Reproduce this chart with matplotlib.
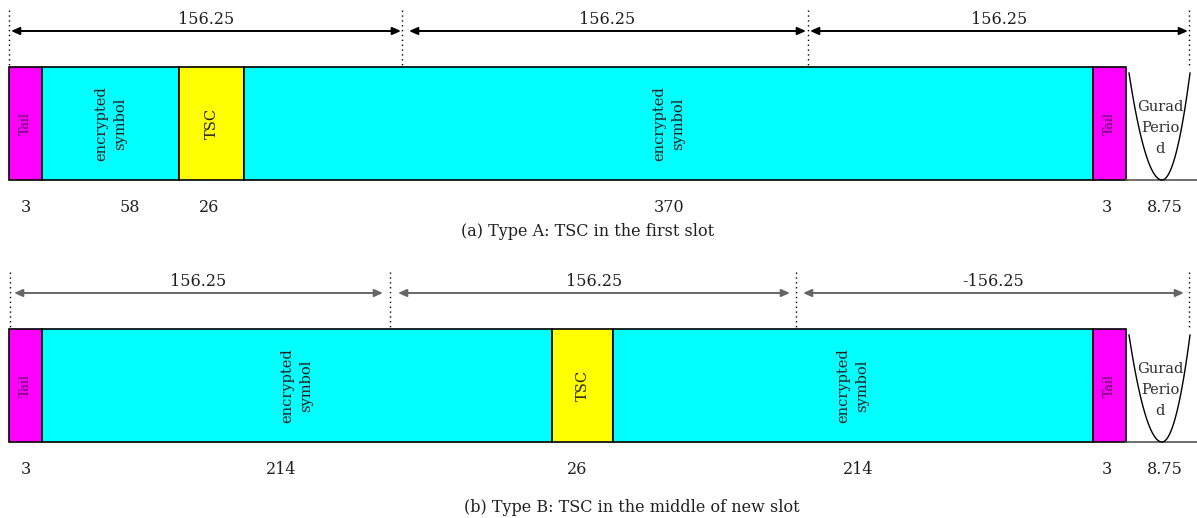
import numpy as np
import matplotlib.pyplot as plt
from matplotlib.patches import Rectangle

# burst contents
a_fields = ["Tail", "encrypted\nsymbol", "TSC", "encrypted\nsymbol", "Tail"]
a_bits = ["3", "58", "26", "370", "3", "8.75"]
b_fields = ["Tail", "encrypted\nsymbol", "TSC", "encrypted\nsymbol", "Tail"]
b_bits = ["3", "214", "26", "214", "3", "8.75"]
a_slots = ["156.25", "156.25", "156.25"]
b_slots = ["156.25", "156.25", "-156.25"]
a_caption = "(a) Type A: TSC in the first slot"
b_caption = "(b) Type B: TSC in the middle of new slot"
guard_text = "Gurad\nPerio\nd"

# layout (pixel units, the drawing is not to scale)
a_edges = [9, 42, 179, 244, 1093, 1126]
b_edges = [9, 42, 552, 613, 1093, 1126]
a_bit_x = [26, 130, 209, 669, 1107, 1165]
b_bit_x = [26, 281, 577, 858, 1107, 1165]
a_marks = [9, 402, 808, 1189]
b_marks = [10, 390, 796, 1189]
a_arrows = [(11, 401), (409, 806), (810, 1188)]
b_arrows = [(14, 383), (398, 790), (803, 1184)]

colors = {"Tail": "#ff00ff", "TSC": "#ffff00", "encrypted\nsymbol": "#00ffff"}
font = ["DejaVu Serif"]
fs = 10.5
fs_lab = 11.5

fig = plt.figure(figsize=(11.97, 5.18), dpi=100)
ax = fig.add_axes([0, 0, 1, 1])
ax.set_xlim(0, 1197)
ax.set_ylim(518, 0)
ax.axis("off")


def draw_row(fields, bits, edges, bit_x, marks, arrows, slots, caption,
             top, cap_x, cap_y, arrow_color):
    bottom = top + 113
    arrow_y = top - 36
    for i, name in enumerate(fields):
        x0, x1 = edges[i], edges[i + 1]
        ax.add_patch(Rectangle((x0, top), x1 - x0, bottom - top,
                               facecolor=colors[name], edgecolor="black", lw=1.2))
        xc = (x0 + x1) / 2
        if name == "Tail":
            ax.text(xc, (top + bottom) / 2, name, rotation=90, ha="center",
                    va="center", fontsize=9, color="#5a1060", family=font)
        else:
            ax.text(xc, (top + bottom) / 2, name, rotation=90, ha="center",
                    va="center", fontsize=fs, color="#202020", family=font,
                    linespacing=1.45)
    # baseline under guard period
    ax.plot([edges[-1], 1197], [bottom, bottom], color="#555555", lw=1.2)
    # guard period curve
    t = np.linspace(-1, 1, 60)
    gx = 1162 + np.where(t < 0, 33, 28) * t
    gy = bottom - (bottom - top - 6) * t ** 2
    ax.plot(gx, gy, color="black", lw=1.0)
    ax.text(1160, top + 61, guard_text, ha="center", va="center", fontsize=fs,
            color="#303030", family=font, linespacing=1.6)
    for x, s in zip(bit_x, bits):
        ax.text(x, bottom + 28, s, ha="center", va="center", fontsize=fs_lab,
                family=font, color="#202020")
    for x in marks:
        ax.plot([x, x], [top - 57, top], color="black", lw=1.0, ls=(0, (1, 2.5)))
    for (x0, x1), s in zip(arrows, slots):
        ax.annotate("", xy=(x1, arrow_y), xytext=(x0, arrow_y),
                    arrowprops=dict(arrowstyle="<|-|>,head_length=0.5,head_width=0.22",
                                    color=arrow_color, lw=1.4, shrinkA=0, shrinkB=0))
        ax.text((x0 + x1) / 2, arrow_y - 12, s, ha="center", va="center",
                fontsize=fs_lab, family=font, color="#202020")
    ax.text(cap_x, cap_y, caption, ha="center", va="center", fontsize=fs_lab,
            family=font, color="#202020")


draw_row(a_fields, a_bits, a_edges, a_bit_x, a_marks, a_arrows, a_slots,
         a_caption, 67, 588, 232, "black")
draw_row(b_fields, b_bits, b_edges, b_bit_x, b_marks, b_arrows, b_slots,
         b_caption, 329, 632, 508, "#666666")

fig.savefig("out.png", dpi=100)
